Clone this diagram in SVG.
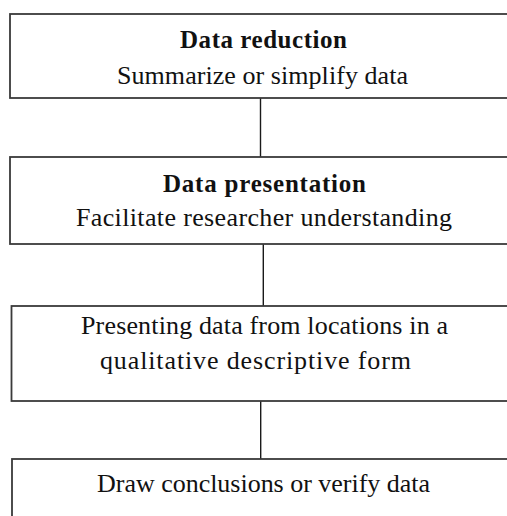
<svg xmlns="http://www.w3.org/2000/svg" width="507" height="516" viewBox="0 0 507 516">
<style>
.box{fill:#fff;stroke:#3a3a3a;stroke-width:1.8}
.t{font-family:"Liberation Serif","Times New Roman",serif;font-size:26px;fill:#111;text-anchor:middle}
.b{font-family:"Liberation Serif","Times New Roman",serif;font-size:25px;font-weight:bold;fill:#111;text-anchor:middle}
.c{stroke:#1a1a1a;stroke-width:1.4;fill:none}
</style>
<rect width="507" height="516" fill="#fff"/>
<g id="connectors">
<line class="c" x1="260.5" y1="98" x2="260.5" y2="157"/>
<line class="c" x1="263.3" y1="244" x2="263.3" y2="306"/>
<line class="c" x1="260.7" y1="401" x2="260.7" y2="459"/>
</g>
<g id="n1">
<rect class="box" x="10" y="14" width="520" height="84"/>
<text class="b" x="263.5" y="47.5" textLength="167">Data reduction</text>
<text class="t" x="262.5" y="83.5" textLength="291">Summarize or simplify data</text>
</g>
<g id="n2">
<rect class="box" x="10" y="157" width="520" height="87"/>
<text class="b" x="264.5" y="191.5" textLength="203">Data presentation</text>
<text class="t" x="264" y="226" textLength="376">Facilitate researcher understanding</text>
</g>
<g id="n3">
<rect class="box" x="11.5" y="306" width="520" height="95"/>
<text class="t" x="264.5" y="334" textLength="367">Presenting data from locations in a</text>
<text class="t" x="255.5" y="368.5" textLength="311">qualitative descriptive form</text>
</g>
<g id="n4">
<rect class="box" x="12" y="459" width="520" height="80"/>
<text class="t" x="263.5" y="491.5" textLength="333">Draw conclusions or verify data</text>
</g>
</svg>
